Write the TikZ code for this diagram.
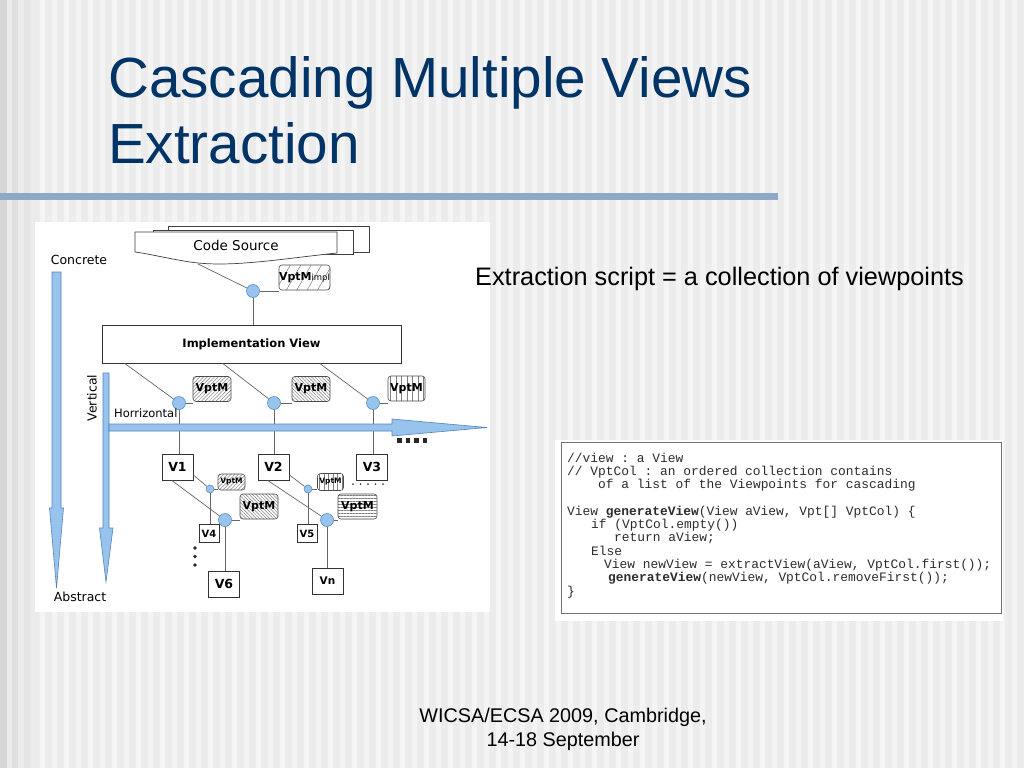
\documentclass[tikz,border=0pt]{standalone}
\usepackage{fontspec}
\setmainfont{Liberation Sans}
\setmonofont{Liberation Mono}
\newfontfamily\diag{DejaVu Sans}
\usetikzlibrary{patterns.meta,calc}
\definecolor{bgc}{RGB}{236,236,236}
\definecolor{stripec}{RGB}{244,244,244}
\definecolor{barc}{RGB}{142,168,198}
\definecolor{titlec}{RGB}{0,51,102}
\definecolor{ltblue}{RGB}{150,196,236}
\definecolor{dotedge}{RGB}{95,140,195}
\definecolor{arrowedge}{RGB}{85,130,185}
\definecolor{codec}{RGB}{45,45,45}
\tikzset{
  box/.style={draw=black!80, fill=white, line width=0.7pt, inner sep=0pt,
    font=\diag\bfseries\fontsize{11.5}{12}\selectfont},
  vbox/.style={box, minimum width=31pt, minimum height=26pt, font=\diag\bfseries\fontsize{12.5}{13}\selectfont},
  svbox/.style={box, minimum width=20pt, minimum height=18pt, font=\diag\bfseries\fontsize{10}{10}\selectfont},
  dot/.style={circle, draw=dotedge, fill=ltblue, line width=0.6pt, minimum size=13pt, inner sep=0pt},
  sdot/.style={dot, minimum size=8pt},
  conn/.style={draw=black!60, line width=0.7pt},
  vpt/.style={draw=black!70, rounded corners=3pt, line width=0.6pt, inner sep=0pt,
    font=\diag\bfseries\fontsize{11}{11}\selectfont, pattern color=black!50},
  svpt/.style={vpt, font=\diag\bfseries\fontsize{7.5}{7.5}\selectfont},
  hne/.style={pattern={Lines[angle=45,distance=2.6pt,line width=0.5pt]}},
  hnw/.style={pattern={Lines[angle=-45,distance=2.4pt,line width=0.5pt]}},
  hsparse/.style={pattern={Lines[angle=60,distance=9pt,line width=0.5pt]}},
  hvert/.style={pattern={Lines[angle=90,distance=5.5pt,line width=0.6pt]}},
  hhor/.style={pattern={Lines[angle=0,distance=3pt,line width=0.5pt]}},
  lbl/.style={font=\diag\fontsize{12.5}{13}\selectfont, inner sep=0pt},
  arrowshape/.style={fill=ltblue, draw=arrowedge, line width=0.6pt},
  codeline/.style={anchor=base west, inner sep=0pt, text=codec, font=\ttfamily\fontsize{12.9}{13}\selectfont},
}
\begin{document}
\begin{tikzpicture}[x=1pt,y=-1pt]
\useasboundingbox (0,0) rectangle (1024,768);
% background
\fill[bgc] (0,0) rectangle (1024,768);
\foreach \x in {40,52,...,1024} { \fill[stripec] (\x,0) rectangle ++(5,768); }
\fill[black!16] (0,0) rectangle (7,768);
\fill[black!12] (12,0) rectangle (18,768);
\fill[black!10] (24,0) rectangle (30,768);
\fill[black!8] (34,0) rectangle (38,768);
% title bar
\fill[barc] (0,193) rectangle (778,200);
% title
\node[anchor=base west, inner sep=0pt, text=titlec, font=\fontsize{56.6}{60}\selectfont] (t1) at (108,97) {Cascading Multiple Views};
\node[anchor=base west, inner sep=0pt, text=titlec, font=\fontsize{56.6}{60}\selectfont] (t2) at (108,163) {Extraction};
% footer
\node[anchor=base, inner sep=0pt, font=\fontsize{19.8}{22}\selectfont] (f1) at (563,722) {WICSA/ECSA 2009, Cambridge,};
\node[anchor=base, inner sep=0pt, font=\fontsize{19.8}{22}\selectfont] (f2) at (563,746) {14-18 September};

% diagram panel
\fill[white] (35,222) rectangle (490,612);
% subtitle
\node[anchor=base west, inner sep=0pt, font=\fontsize{25.3}{28}\selectfont] (sub) at (475,285) {Extraction script = a collection of viewpoints};
% code panel
\fill[white] (555,440) rectangle (1003,621);
\draw[black!55, line width=1pt] (561,442) rectangle (1001,613);
\node[codeline] (l1) at (567,462) {//view : a View};
\node[codeline] (l2) at (567,475.3) {// VptCol : an ordered collection contains};
\node[codeline] (l3) at (598,488.6) {of a list of the Viewpoints for cascading};
\node[codeline] (l5) at (567,515.2) {View \textbf{generateView}(View aView, Vpt[] VptCol) \{};
\node[codeline] (l6) at (591,528.5) {if (VptCol.empty())};
\node[codeline] (l7) at (614,541.8) {return aView;};
\node[codeline] (l8) at (591,555.1) {Else};
\node[codeline] (l9) at (604,568.4) {View newView = extractView(aView, VptCol.first());};
\node[codeline] (l10) at (608,581.7) {\textbf{generateView}(newView, VptCol.removeFirst());};
\node[codeline] (l11) at (567,595) {\}};

% Code Source stacked sheets
\draw[fill=white, line width=0.7pt, draw=black!75] (168,226) rectangle (369,252);
\draw[fill=white, line width=0.7pt, draw=black!75] (153,230) rectangle (353,254);
\draw[fill=white, line width=0.7pt, draw=black!75] (135,232) -- (337,232) -- (337,253)
   .. controls (280,259) and (230,268) .. (190,262) .. controls (165,258) and (150,254) .. (135,252) -- cycle;
\node[lbl, font=\diag\fontsize{13.5}{14}\selectfont] (cs) at (236,245) {Code Source};
\coordinate (csb) at (198,264);

% VptM boxes
\node[vpt, hsparse, minimum width=51pt, minimum height=25pt] (vi) at (304.5,277.5) {VptM{\mdseries\fontsize{8.5}{8.5}\selectfont impl}};
\node[vpt, hne, minimum width=38pt, minimum height=25pt] (b1) at (212,389) {VptM};
\node[vpt, hnw, minimum width=38pt, minimum height=25pt] (b2) at (311,389) {VptM};
\node[vpt, hvert, minimum width=37pt, minimum height=25pt] (b3) at (406.5,388.5) {VptM};
\node[svpt, hne, minimum width=27pt, minimum height=16pt] (sb1) at (231.5,482) {VptM};
\node[svpt, pattern={Lines[angle=90,distance=4.5pt,line width=0.5pt]}, minimum width=26pt, minimum height=17pt] (sb2) at (330.5,482) {VptM};
\node[vpt, hnw, minimum width=38pt, minimum height=25pt] (bb1) at (259,506.5) {VptM};
\node[vpt, hhor, minimum width=39pt, minimum height=25pt] (bb2) at (357.5,506.5) {VptM};

% Implementation view
\node[box, minimum width=299pt, minimum height=38pt] (iv) at (251.5,344) {Implementation View};

% views
\node[vbox] (v1) at (177.5,467) {V1};
\node[vbox] (v2) at (273.5,467) {V2};
\node[vbox] (v3) at (372,467) {V3};
\node[svbox] (v4) at (209,533.5) {V4};
\node[svbox] (v5) at (307,533.5) {V5};
\node[vbox] (v6) at (224,584) {V6};
\node[vbox, font=\diag\bfseries\fontsize{10.5}{11}\selectfont] (vn) at (327.5,581) {Vn};

% circles
\node[dot] (c0) at (253,291) {};
\node[dot] (c1) at (179,403) {};
\node[dot] (c2) at (274,403) {};
\node[dot] (c3) at (373,403) {};
\node[sdot] (s1) at (210,489) {};
\node[sdot] (s2) at (308,489) {};
\node[dot] (d1) at (225,520) {};
\node[dot] (d2) at (327,520) {};

% labels
\node[lbl] (conc) at (79,260) {Concrete};
\node[lbl] (abst) at (80,597) {Abstract};
\node[lbl, rotate=90] (vert) at (92,398) {Vertical};
\node[lbl, anchor=west, font=\diag\fontsize{11.5}{12}\selectfont] (horiz) at (114,413) {Horrizontal};

% connectors
\draw[conn] (csb) -- (c0);
\draw[conn] (c0) -- (c0 -| vi.west);
\draw[conn] (c0) -- (c0 |- iv.north);
\draw[conn] ($(iv.south west)+(23,0)$) -- (c1);
\draw[conn] ($(iv.south west)+(121,0)$) -- (c2);
\draw[conn] ($(iv.south west)+(218,0)$) -- (c3);
\draw[conn] (c1) -- (c1 -| b1.west);
\draw[conn] (c2) -- (c2 -| b2.west);
\draw[conn] (c3) -- (c3 -| b3.west);
\draw[conn] (c1) -- (c1 |- v1.north);
\draw[conn] (c2) -- (c2 |- v2.north);
\draw[conn] (c3) -- (c3 |- v3.north);
\draw[conn] ($(v1.east)+(0,8)$) -- (s1);
\draw[conn] ($(v1.south west)+(10,0)$) -- (d1);
\draw[conn] (s1) -- (s1 -| sb1.west);
\draw[conn] (s1) -- (s1 |- v4.north);
\draw[conn] (d1) -- (d1 -| bb1.west);
\draw[conn] (d1) -- (d1 |- v6.north);
\draw[conn] ($(v2.east)+(0,8)$) -- (s2);
\draw[conn] ($(v2.south west)+(10,0)$) -- (d2);
\draw[conn] (s2) -- (s2 -| sb2.west);
\draw[conn] (s2) -- (s2 |- v5.north);
\draw[conn] (d2) -- (d2 -| bb2.west);
\draw[conn] (d2) -- (d2 |- vn.north);

% big arrows
\draw[arrowshape] (52,272) -- (61,272) -- (61,508) -- (63.5,508) -- (56.5,588) -- (49.5,508) -- (52,508) -- cycle;
\draw[arrowshape] (103,373) -- (109,373) -- (109,528) -- (113,528) -- (106,582) -- (99.5,528) -- (103,528) -- cycle;
\draw[arrowshape] (109,424) -- (392,424) -- (392,419) -- (487,427.5) -- (392,436) -- (392,431) -- (109,431) -- cycle;

% dots
\foreach \x in {397,405.5,414,422.5} { \fill[black!85] (\x,438) rectangle ++(4.5,4.5); }
\foreach \x in {353,360.5,368,375.5,383} { \fill[black!70] (\x,484) circle (1pt); }
\foreach \y in {548,556.5,565} { \fill[black!85] (195,\y) circle (1.8pt); }
\end{tikzpicture}
\end{document}
